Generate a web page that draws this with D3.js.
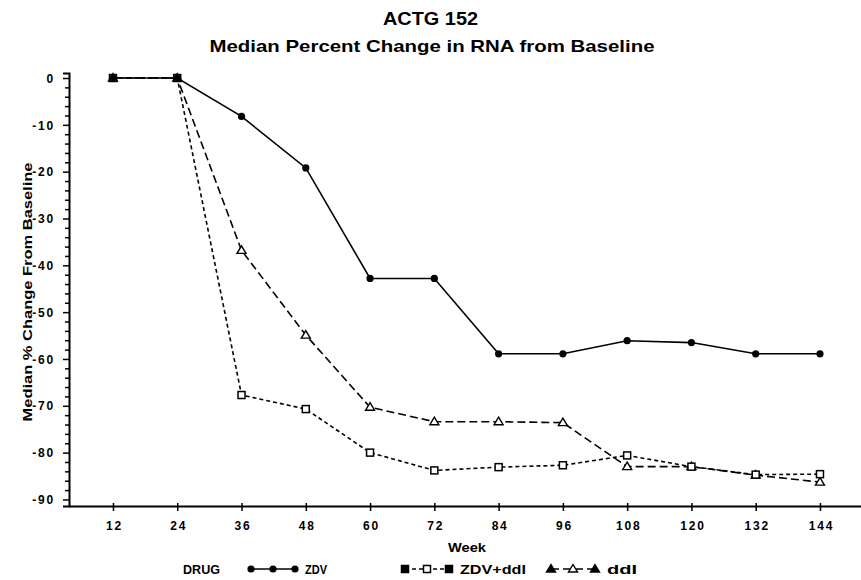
<!DOCTYPE html>
<html>
<head>
<meta charset="utf-8">
<script src="https://cdn.jsdelivr.net/npm/d3@7"></script>
<style>
  html, body { margin: 0; padding: 0; background: #fff; }
  svg { display: block; }
  .lbl { font-family: "Liberation Sans", Arial, sans-serif; font-weight: bold; fill: #000; }
  .tick text { font-family: "Liberation Sans", Arial, sans-serif; font-weight: bold; font-size: 12px; letter-spacing: 1.8px; fill: #000; }
</style>
</head>
<body>
<div id="chart"></div>
<script>
// Weeks on study and the median % change in RNA for each drug arm.
const weeks = [12, 24, 36, 48, 60, 72, 84, 96, 108, 120, 132, 144];
const zdv = [0, 0, -8.2, -19.2, -42.8, -42.8, -58.9, -58.9, -56.1, -56.5, -58.9, -58.9];
const zdvDdi = [0, 0, -67.7, -70.7, -80.0, -83.8, -83.1, -82.7, -80.6, -83.0, -84.7, -84.6];
const ddi = [0, 0, -36.8, -54.9, -70.3, -73.4, -73.4, -73.6, -83.0, -83.0, -84.8, -86.3];

const yMajor = [0, -10, -20, -30, -40, -50, -60, -70, -80, -90];
const yMinor = d3.range(0, -91, -2).filter((v) => v % 10 !== 0);

const drugs = [
  { key: 'ZDV', values: zdv, marker: 'circle', dash: null },
  { key: 'ZDV+ddI', values: zdvDdi, marker: 'square', dash: '4,3' },
  { key: 'ddI', values: ddi, marker: 'triangle', dash: '8,4' },
];

const width = 861;
const height = 580;

const svg = d3.select('#chart').append('svg').attr('width', width).attr('height', height);

// axis frame runs a bit past the first/last week and above 0
const x = d3.scaleLinear().domain([3.79, 151.66]).range([69, 861]);
const y = d3.scaleLinear().domain([-91.4, 1.07]).range([506, 73]);

// titles
svg.append('text').attr('class', 'lbl')
  .attr('x', 430.5).attr('y', 25).attr('text-anchor', 'middle')
  .attr('font-size', 18).attr('textLength', 95).attr('lengthAdjust', 'spacingAndGlyphs')
  .text('ACTG 152');
svg.append('text').attr('class', 'lbl')
  .attr('x', 432).attr('y', 52).attr('text-anchor', 'middle')
  .attr('font-size', 17).attr('textLength', 445).attr('lengthAdjust', 'spacingAndGlyphs')
  .text('Median Percent Change in RNA from Baseline');

// y axis: major + minor ticks
const yAxis = svg.append('g').attr('transform', `translate(${x.range()[0]},0)`)
  .call(d3.axisLeft(y).tickValues(yMajor).tickSize(6).tickPadding(8).tickFormat((d) => String(d)));
svg.append('g').attr('transform', `translate(${x.range()[0]},0)`)
  .call(d3.axisLeft(y).tickValues(yMinor).tickSize(4).tickFormat(''))
  .call((g) => g.select('.domain').remove());

// x axis
const xAxis = svg.append('g').attr('transform', `translate(0,${y.range()[0]})`)
  .call(d3.axisBottom(x).tickValues(weeks).tickSize(5).tickPadding(8).tickSizeOuter(0).tickFormat((d) => String(d)));
xAxis.selectAll('.tick line').attr('y1', -3);

[yAxis, xAxis].forEach((g) => {
  g.select('.domain').attr('stroke', '#000').attr('stroke-width', 2);
});
svg.selectAll('.tick line').attr('stroke', '#000').attr('stroke-width', 1.5);
yAxis.selectAll('.tick text').attr('x', -14).attr('dy', '0.35em');
xAxis.selectAll('.tick text').attr('dy', '0.9em').attr('dx', 1);

// axis titles
svg.append('text').attr('class', 'lbl')
  .attr('transform', 'translate(32,292) rotate(-90)')
  .attr('text-anchor', 'middle').attr('font-size', 12)
  .attr('textLength', 259).attr('lengthAdjust', 'spacingAndGlyphs')
  .text('Median % Change From Baseline');
svg.append('text').attr('class', 'lbl')
  .attr('x', 467).attr('y', 552).attr('text-anchor', 'middle').attr('font-size', 12)
  .attr('textLength', 38).attr('lengthAdjust', 'spacingAndGlyphs')
  .text('Week');

function drawMarker(g, type, cx, cy, filled) {
  if (type === 'circle') {
    g.append('circle').attr('cx', cx).attr('cy', cy).attr('r', 3.6).attr('fill', '#000');
  } else if (type === 'square') {
    g.append('rect').attr('x', cx - 3.5).attr('y', cy - 3.5).attr('width', 7).attr('height', 7)
      .attr('fill', filled ? '#000' : '#fff').attr('stroke', '#000').attr('stroke-width', 1.5);
  } else {
    g.append('path').attr('d', `M${cx},${cy - 4.5}L${cx + 4.5},${cy + 3}L${cx - 4.5},${cy + 3}Z`)
      .attr('fill', filled ? '#000' : '#fff').attr('stroke', '#000').attr('stroke-width', 1.4);
  }
}

const plot = svg.append('g');
// dashed arms first so the solid ZDV line sits on top
drugs.slice().reverse().forEach((d) => {
  const pts = weeks.map((w, i) => ({ w, v: d.values[i] }));
  const line = d3.line().x((p) => x(p.w)).y((p) => y(p.v));
  plot.append('path').datum(pts)
    .attr('fill', 'none').attr('stroke', '#000').attr('stroke-width', 1.6)
    .attr('stroke-dasharray', d.dash)
    .attr('d', line);
});
// markers: triangles, then squares, then ZDV dots on top
[drugs[2], drugs[1], drugs[0]].forEach((d) => {
  const mg = plot.append('g');
  weeks.forEach((w, i) => drawMarker(mg, d.marker, x(w), y(d.values[i]), false));
});

// legend
const legendY = 569;
svg.append('text').attr('class', 'lbl')
  .attr('x', 183).attr('y', legendY + 4.5).attr('font-size', 12)
  .attr('textLength', 37).attr('lengthAdjust', 'spacingAndGlyphs').text('DRUG');

const legendItems = [
  { drug: drugs[0], x0: 251, label: 'ZDV', tx: 305, tw: 22 },
  { drug: drugs[1], x0: 405, label: 'ZDV+ddI', tx: 460, tw: 66 },
  { drug: drugs[2], x0: 551, label: 'ddI', tx: 607, tw: 30 },
];
legendItems.forEach((it) => {
  const g = svg.append('g');
  g.append('line').attr('x1', it.x0).attr('x2', it.x0 + 44)
    .attr('y1', legendY).attr('y2', legendY)
    .attr('stroke', '#000').attr('stroke-width', 1.6)
    .attr('stroke-dasharray', it.drug.dash);
  [0, 22, 44].forEach((dx, j) => drawMarker(g, it.drug.marker, it.x0 + dx, legendY, j !== 1));
  svg.append('text').attr('class', 'lbl')
    .attr('x', it.tx).attr('y', legendY + 4.5).attr('font-size', 12)
    .attr('textLength', it.tw).attr('lengthAdjust', 'spacingAndGlyphs').text(it.label);
});
</script>
</body>
</html>
